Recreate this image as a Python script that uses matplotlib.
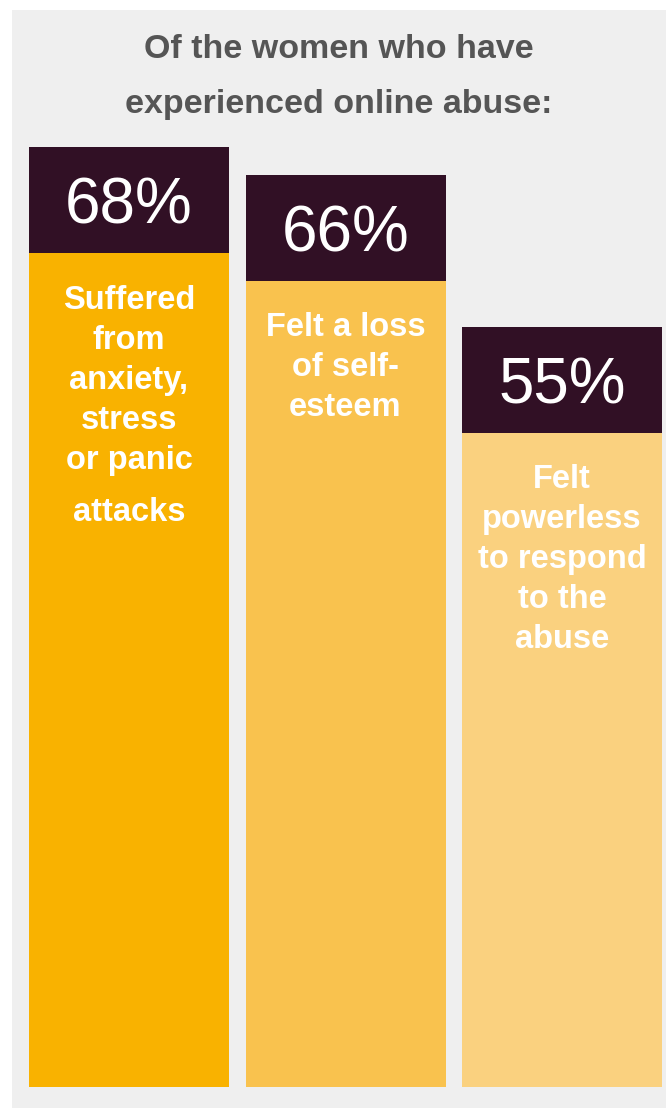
import matplotlib.pyplot as plt
from matplotlib.patches import Rectangle

plt.rcParams['font.family'] = ['Liberation Sans', 'DejaVu Sans']

title = "Of the women who have\nexperienced online abuse:"
values = [68, 66, 55]
labels = [
    ["Suffered", "from", "anxiety,", "stress", "or panic", "attacks"],
    ["Felt a loss", "of self-", "esteem"],
    ["Felt", "powerless", "to respond", "to the", "abuse"],
]
bar_colors = ["#F9B200", "#F9C24E", "#FAD17F"]
dark = "#311025"

W, H = 666, 1108
fig = plt.figure(figsize=(W / 100, H / 100), dpi=100)
fig.patch.set_facecolor("white")

# grey panel behind everything
fig.patches.append(Rectangle((12 / W, 0), 1 - 12 / W, 1 - 10 / H,
                             transform=fig.transFigure, facecolor="#EFEFEF",
                             edgecolor="none", zorder=-5))

fig.text(0.5 * (12 + 666) / W, 1 - 58 / H, title.split("\n")[0], ha="center",
         va="baseline", fontsize=24.5, color="#555555", fontweight="bold")
fig.text(0.5 * (12 + 666) / W, 1 - 113 / H, title.split("\n")[1], ha="center",
         va="baseline", fontsize=24.5, color="#555555", fontweight="bold")

# axes: bottom at y=1087px, top at y=10px
px_per_unit = 13.82
ax_bottom = 1 - 1087 / H
ax_top = 1 - 10 / H
ax = fig.add_axes([12 / W, ax_bottom, 1 - 12 / W, ax_top - ax_bottom])
ax.set_facecolor("none")
ax.set_ylim(0, (1087 - 10) / px_per_unit)
step = 216.5
ax.set_xlim((12 - 129) / step, (666 - 129) / step)
ax.axis("off")

box = 106 / px_per_unit
bw = 200 / step
x = range(len(values))
ax.bar(x, values, width=bw, color=bar_colors, zorder=2)
ax.bar(x, [box] * len(values), bottom=[v - box for v in values], width=bw,
       color=dark, zorder=3)

for i, v in enumerate(values):
    ax.text(i, v - box / 2, f"{v}%", ha="center", va="center_baseline",
            color="white", fontsize=46, zorder=4)
    y = v - box - 55.5 / px_per_unit
    for j, line in enumerate(labels[i]):
        if i == 0 and line == "attacks":
            y -= 12 / px_per_unit
        ax.text(i, y, line, ha="center", va="baseline", color="white",
                fontsize=23.5, fontweight="bold", zorder=4)
        y -= 40 / px_per_unit

fig.savefig("out.png", dpi=100)
